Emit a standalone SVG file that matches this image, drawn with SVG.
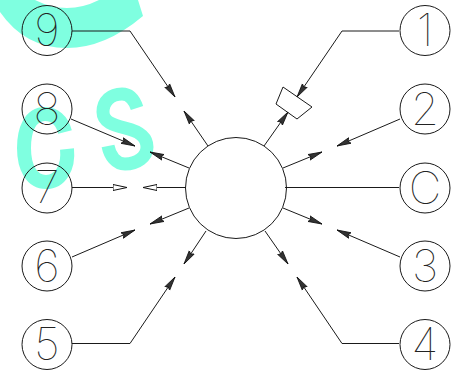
<svg xmlns="http://www.w3.org/2000/svg" width="461" height="374" viewBox="0 0 461 374">
<style>
.l{fill:none;stroke:#1a1a1a;stroke-width:1}
.c{fill:none;stroke:#1a1a1a;stroke-width:1}
.t{font-family:"Inter","Roboto","Liberation Sans",sans-serif;font-weight:100;font-size:45px;fill:#222;text-anchor:middle}
.w{fill:#7fffe0}
.ws{fill:none;stroke:#7fffe0;stroke-width:14}
</style>
<defs>
<marker id="a" markerUnits="userSpaceOnUse" markerWidth="16" markerHeight="10" refX="14" refY="5" orient="auto"><path d="M0 2L14 5L0 8L2 5Z" fill="#333" stroke="#111" stroke-width=".8"/></marker>
<marker id="b" markerUnits="userSpaceOnUse" markerWidth="16" markerHeight="10" refX="0" refY="5" orient="auto"><path d="M0 2L14 5L0 8Z" fill="#fff" stroke="#111" stroke-width="1"/></marker>
</defs>
<g id="watermark">
<path class="w" d="M35 0Q67 16 99 0H138L143 16Q105 48 67 48Q25 48 0 12V0Z"/>
<path class="ws" d="M65 132C62 120 54 114 45 114C30 114 24 130 24 148C24 168 32 182 46 182C60 182 69 168 67 149"/>
<path class="ws" style="stroke-width:13" d="M137 108C134 99 129 94 122 94C111 94 103 101 103 112C103 122 113 125 125 128C138 131 147 136 147 147C147 157 137 164 125 164C116 164 110 156 108 146"/>
</g>
<g id="connectors">
<path class="l" d="M72 31H130L175 97" marker-end="url(#a)"/>
<path class="l" d="M208 146L184 111" marker-end="url(#a)"/>
<path class="l" d="M71 119L135 146" marker-end="url(#a)"/>
<path class="l" d="M189 168L150 152" marker-end="url(#a)"/>
<path class="l" d="M72 187.5H113" marker-end="url(#b)"/>
<path class="l" d="M186 187.5H157" marker-end="url(#b)"/>
<path class="l" d="M72 257L135 230" marker-end="url(#a)"/>
<path class="l" d="M189 208L150 224" marker-end="url(#a)"/>
<path class="l" d="M72 343.5H130L175 277" marker-end="url(#a)"/>
<path class="l" d="M206 231L184 264" marker-end="url(#a)"/>
<path class="l" d="M399 31H342L297 97" marker-end="url(#a)"/>
<path class="l" d="M264 146L288 112" marker-end="url(#a)"/>
<path class="l" d="M400 119L337 146" marker-end="url(#a)"/>
<path class="l" d="M283 168L322 152" marker-end="url(#a)"/>
<path class="l" d="M285 187.5H399"/>
<path class="l" d="M283 208L322 224" marker-end="url(#a)"/>
<path class="l" d="M400 257L337 230" marker-end="url(#a)"/>
<path class="l" d="M265 231L288 264" marker-end="url(#a)"/>
<path class="l" d="M399 343.5H342L297 277" marker-end="url(#a)"/>
</g>
<g id="body"><circle class="c" cx="236" cy="188" r="50.5"/></g>
<g id="valve"><path class="c" d="M283 87L312 107L297 119L276 104Z"/></g>
<g id="n9"><circle class="c" cx="47" cy="30.500" r="25"/><text class="t" x="47" y="46">9</text></g>
<g id="n8"><circle class="c" cx="47" cy="109" r="25"/><text class="t" x="47" y="125">8</text></g>
<g id="n7"><circle class="c" cx="47" cy="188" r="25"/><text class="t" x="47" y="203">7</text></g>
<g id="n6"><circle class="c" cx="47" cy="266" r="25"/><text class="t" x="47" y="282">6</text></g>
<g id="n5"><circle class="c" cx="47" cy="344.500" r="25"/><text class="t" x="47" y="360">5</text></g>
<g id="n1"><circle class="c" cx="425" cy="30.500" r="25"/><text class="t" x="425" y="46">1</text></g>
<g id="n2"><circle class="c" cx="425" cy="109" r="25"/><text class="t" x="425" y="125">2</text></g>
<g id="nC"><circle class="c" cx="425" cy="188" r="25"/><text class="t" x="425" y="204">C</text></g>
<g id="n3"><circle class="c" cx="425" cy="266" r="25"/><text class="t" x="425" y="282">3</text></g>
<g id="n4"><circle class="c" cx="425" cy="344.500" r="25"/><text class="t" x="425" y="360">4</text></g>
</svg>
